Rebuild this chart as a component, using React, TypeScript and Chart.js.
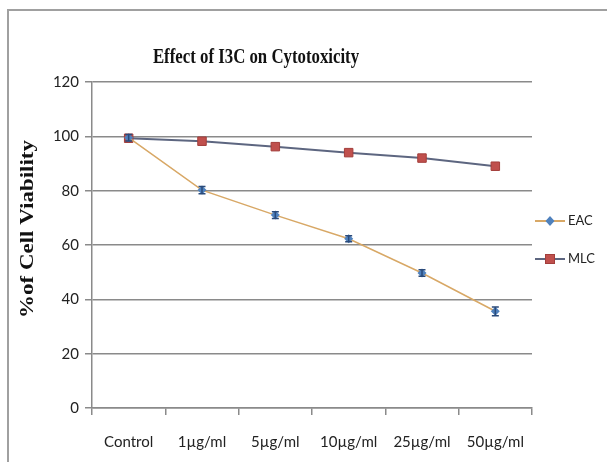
import React, { useEffect, useRef } from "react";
import { Chart, registerables } from "chart.js";

Chart.register(...registerables);

const categories = ["Control", "1µg/ml", "5µg/ml", "10µg/ml", "25µg/ml", "50µg/ml"];
const eacValues = [99.5, 80.2, 71.0, 62.3, 49.7, 35.6];
const eacErrors = [1.2, 1.3, 1.2, 1.1, 1.2, 1.6];
const mlcValues = [99.3, 98.2, 96.2, 94.0, 92.0, 89.0];
const yTicks = [0, 20, 40, 60, 80, 100, 120];
const chartTitle = "Effect of I3C on Cytotoxicity";
const yTitle = "%of Cell Viability";

const SANS = "'Lato', 'Liberation Sans', sans-serif";
const SERIF = "'Liberation Serif', 'Times New Roman', serif";

const decorPlugin = {
  id: "decor",
  afterDatasetsDraw(chart: any) {
    const ctx = chart.ctx;
    const meta = chart.getDatasetMeta(0);
    const ys = chart.scales.y;
    ctx.save();
    ctx.strokeStyle = "#2a4a7a";
    ctx.lineWidth = 1.5;
    meta.data.forEach((pt: any, i: number) => {
      const v = eacValues[i];
      const e = eacErrors[i];
      const yTop = ys.getPixelForValue(v + e);
      const yBot = ys.getPixelForValue(v - e);
      const x = pt.x;
      ctx.beginPath();
      ctx.moveTo(x, yTop);
      ctx.lineTo(x, yBot);
      ctx.moveTo(x - 3.5, yTop);
      ctx.lineTo(x + 3.5, yTop);
      ctx.moveTo(x - 3.5, yBot);
      ctx.lineTo(x + 3.5, yBot);
      ctx.stroke();
    });
    ctx.restore();
  },
  afterDraw(chart: any) {
    const ctx = chart.ctx;
    ctx.save();
    ctx.fillStyle = "#111";
    ctx.textAlign = "center";
    ctx.textBaseline = "middle";
    // title (horizontally condensed like the reference)
    ctx.save();
    ctx.translate(256, 58);
    ctx.scale(0.8, 1);
    ctx.font = "bold 21px " + SERIF;
    ctx.fillText(chartTitle, 0, 0);
    ctx.restore();
    // y title
    ctx.save();
    ctx.translate(28, 229);
    ctx.rotate(-Math.PI / 2);
    ctx.scale(1, 0.8);
    ctx.font = "bold 23px " + SERIF;
    ctx.fillText(yTitle, 0, 0);
    ctx.restore();
    // legend
    const items = chart.data.datasets.map((ds: any, i: number) => ({
      label: ds.label,
      line: ds.borderColor,
      fill: ds.pointBackgroundColor,
      border: ds.pointBorderColor,
      style: ds.pointStyle,
      y: i === 0 ? 221 : 259,
    }));
    items.forEach((it: any) => {
      ctx.strokeStyle = it.line;
      ctx.lineWidth = 2;
      ctx.beginPath();
      ctx.moveTo(535, it.y);
      ctx.lineTo(565, it.y);
      ctx.stroke();
      ctx.fillStyle = it.fill;
      ctx.strokeStyle = it.border;
      ctx.lineWidth = 1;
      const cx = 550;
      if (it.style === "rectRot") {
        ctx.beginPath();
        ctx.moveTo(cx, it.y - 5);
        ctx.lineTo(cx + 4.5, it.y);
        ctx.lineTo(cx, it.y + 5);
        ctx.lineTo(cx - 4.5, it.y);
        ctx.closePath();
        ctx.fill();
      } else {
        ctx.fillRect(cx - 4.5, it.y - 4.5, 9, 9);
        ctx.strokeRect(cx - 4.5, it.y - 4.5, 9, 9);
      }
      ctx.fillStyle = "#222";
      ctx.font = "13px " + SANS;
      ctx.textAlign = "left";
      ctx.textBaseline = "middle";
      ctx.fillText(it.label, 568, it.y);
    });
    ctx.restore();
  },
};

export default function App() {
  const ref = useRef<HTMLCanvasElement>(null);
  useEffect(() => {
    if (!ref.current) return;
    const chart = new Chart(ref.current, {
      type: "line",
      data: {
        labels: categories,
        datasets: [
          {
            label: "EAC",
            data: eacValues,
            borderColor: "#d8a866",
            borderWidth: 1.5,
            pointStyle: "rectRot",
            pointRadius: 4.5,
            pointBackgroundColor: "#4f81bd",
            pointBorderColor: "#4f81bd",
            pointBorderWidth: 0,
            tension: 0,
          },
          {
            label: "MLC",
            data: mlcValues,
            borderColor: "#5d6680",
            borderWidth: 2,
            pointStyle: "rect",
            pointRadius: 6,
            pointBackgroundColor: "#c0504d",
            pointBorderColor: "#a33e3b",
            pointBorderWidth: 1,
            tension: 0,
          },
        ],
      },
      options: {
        animation: false,
        responsive: false,
        layout: { padding: { top: 82, right: 75, left: 0, bottom: 0 } },
        plugins: {
          legend: { display: false },
          title: { display: false },
          tooltip: { enabled: false },
        },
        scales: {
          x: {
            type: "category",
            offset: true,
            grid: {
              drawOnChartArea: false,
              drawTicks: true,
              tickLength: 7,
              offset: true,
              color: "#8a8a8a",
              lineWidth: 1.5,
            },
            border: { color: "#8a8a8a", width: 1.5 },
            ticks: {
              padding: 18,
              color: "#222",
              font: { family: SANS, size: 15 },
              maxRotation: 0,
              autoSkip: false,
            },
            afterFit: (scale: any) => {
              scale.height = 54;
            },
          },
          y: {
            min: 0,
            max: 120,
            afterBuildTicks: (scale: any) => {
              scale.ticks = yTicks.map((v) => ({ value: v }));
            },
            grid: {
              color: "#8a8a8a",
              lineWidth: 1.5,
              tickLength: 7,
            },
            border: { color: "#8a8a8a", width: 1.5 },
            ticks: {
              padding: 6,
              color: "#222",
              font: { family: SANS, size: 15 },
            },
            afterFit: (scale: any) => {
              scale.width = 92;
            },
          },
        },
      },
      plugins: [decorPlugin],
    } as any);
    return () => chart.destroy();
  }, []);
  return (
    <div style={{ position: "fixed", left: 0, top: 0, width: 607, height: 462, background: "#fff", overflow: "hidden" }}>
      <div
        style={{
          position: "absolute",
          left: 7,
          top: 9,
          width: 640,
          height: 500,
          borderLeft: "2px solid #a0a0a0",
          borderTop: "2px solid #a0a0a0",
          boxSizing: "border-box",
        }}
      />
      <canvas ref={ref} width={607} height={462} style={{ position: "absolute", left: 0, top: 0 }} />
    </div>
  );
}
